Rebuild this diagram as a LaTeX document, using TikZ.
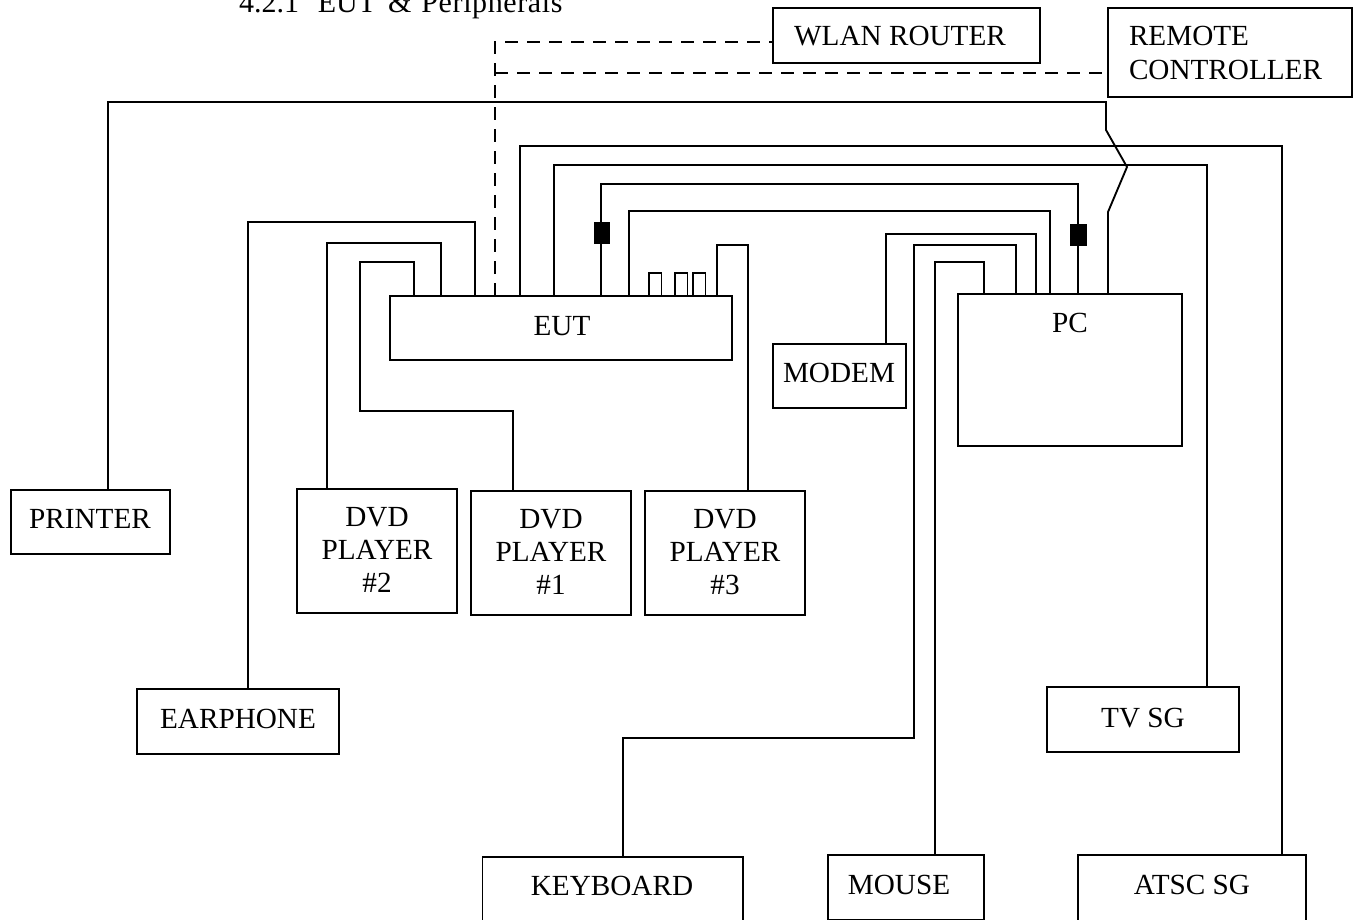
\documentclass[tikz,border=0pt]{standalone}
\usepackage{fontspec}
\setmainfont{Liberation Serif}
\usetikzlibrary{fit}
\tikzset{
  x=0.75pt,y=-0.75pt,
  box/.style={draw=black,line width=1.4pt,inner sep=0pt,outer sep=0pt,fill=white},
  lbl/.style={inner sep=0pt,outer sep=0pt,align=center,font=\fontsize{21.9}{24.75}\selectfont},
  wire/.style={draw=black,line width=1.4pt,line join=miter},
  radio/.style={wire,dash pattern=on 10pt off 6.5pt},
  ferrite/.style={fill=black,draw=black,line width=0.3pt,inner sep=0pt,outer sep=0pt},
  port/.style={draw=black,line width=0.9pt,fill=white,inner sep=0pt,outer sep=0pt}
}
\newcommand{\bx}[5]{\node[box,fit={(#2,#3)(#4,#5)}] (#1) {};}
\begin{document}
\begin{tikzpicture}
\clip (0,0) rectangle (1357,920);
\fill[white] (0,0) rectangle (1357,920);
% boxes
\bx{wlan}{773}{8}{1040}{63}
\bx{remote}{1108}{8}{1352}{97}
\bx{eut}{390}{296}{732}{360}
\bx{pc}{958}{294}{1182}{446}
\bx{modem}{773}{344}{906}{408}
\bx{printer}{11}{490}{170}{554}
\bx{dvdb}{297}{489}{457}{613}
\bx{dvda}{471}{491}{631}{615}
\bx{dvdc}{645}{491}{805}{615}
\bx{earphone}{137}{689}{339}{754}
\bx{tvsg}{1047}{687}{1239}{752}
\bx{keyboard}{482.5}{857}{743}{935}
\bx{mouse}{828}{855}{984}{919.5}
\bx{atsc}{1078}{855}{1306}{935}
% connectors
\draw[radio] ([shift={(105,0)}]eut.north west) |- (wlan.west |- 0,42);
\draw[radio] ([shift={(105,0)}]eut.north west |- 0,73) -- (remote.west |- 0,73);
\draw[wire] ([shift={(97,0)}]printer.north west) |- (1106,102) -- (1106,130) -- (1127,167) -- (1108,212) -- ([shift={(150,0)}]pc.north west);
\draw[wire] ([shift={(111,0)}]earphone.north west) |- (475,222) -- ([shift={(85,0)}]eut.north west);
\draw[wire] ([shift={(30,0)}]dvdb.north west) |- (441,243) -- ([shift={(51,0)}]eut.north west);
\draw[wire] ([shift={(42,0)}]dvda.north west) |- (360,411) -- (360,262) -| ([shift={(24,0)}]eut.north west);
\draw[wire] ([shift={(130,0)}]eut.north west) |- (1282,146) -- ([shift={(204,0)}]atsc.north west);
\draw[wire] ([shift={(164,0)}]eut.north west) |- (1207,165) -- ([shift={(160,0)}]tvsg.north west);
\draw[wire] ([shift={(211,0)}]eut.north west) |- (1078,184) -- ([shift={(120,0)}]pc.north west);
\draw[wire] ([shift={(239,0)}]eut.north west) |- (1050,211) -- ([shift={(92,0)}]pc.north west);
\draw[wire] ([shift={(327,0)}]eut.north west) |- (748,245) -- ([shift={(103,0)}]dvdc.north west);
\draw[wire] ([shift={(113,0)}]modem.north west) |- (1036,234) -- ([shift={(78,0)}]pc.north west);
\draw[wire] ([shift={(140.5,0)}]keyboard.north west) |- (914,738) -- (914,245) -| ([shift={(58,0)}]pc.north west);
\draw[wire] ([shift={(107,0)}]mouse.north west) |- (984,262) -- ([shift={(26,0)}]pc.north west);
% ferrites and ports
\node[ferrite,fit={(594,222)(609.5,243)}] (ferl) {};
\node[ferrite,fit={(1070,224)(1086,245.5)}] (ferr) {};
\node[port,fit={(649,273)(661.5,296)}] (porta) {};
\node[port,fit={(675,273)(687.5,296)}] (portb) {};
\node[port,fit={(693,273)(705.5,296)}] (portc) {};
% labels
\node[lbl,anchor=base west,font=\fontsize{22.5}{24.75}\selectfont] (title) at (239,13) {4.2.1\hspace{0.63em}EUT\hspace{0.4em}\&\hspace{0.33em}{\addfontfeature{LetterSpace=2}Peripherals}};
\node[lbl,anchor=base] (wlan-t) at (900,46) {WLAN ROUTER};
\node[lbl,anchor=base west] (remote-a) at (1129,46) {REMOTE};
\node[lbl,anchor=base west] (remote-b) at (1129,80) {CONTROLLER};
\node[lbl,anchor=base] (eut-t) at (562,335) {EUT};
\node[lbl,anchor=base] (pc-t) at (1070,332) {PC};
\node[lbl,anchor=base] (modem-t) at (839,382) {MODEM};
\node[lbl,anchor=base] (printer-t) at (90,528) {PRINTER};
\node[lbl] (dvdb-t) at (377,550) {DVD\\PLAYER\\\#2};
\node[lbl] (dvda-t) at (551,552) {DVD\\PLAYER\\\#1};
\node[lbl] (dvdc-t) at (725,552) {DVD\\PLAYER\\\#3};
\node[lbl,anchor=base] (earphone-t) at (238,728) {EARPHONE};
\node[lbl,anchor=base] (tvsg-t) at (1143,727) {TV SG};
\node[lbl,anchor=base] (keyboard-t) at (612,895) {KEYBOARD};
\node[lbl,anchor=base] (mouse-t) at (899,894) {MOUSE};
\node[lbl,anchor=base] (atsc-t) at (1192,894) {ATSC SG};
\end{tikzpicture}
\end{document}
